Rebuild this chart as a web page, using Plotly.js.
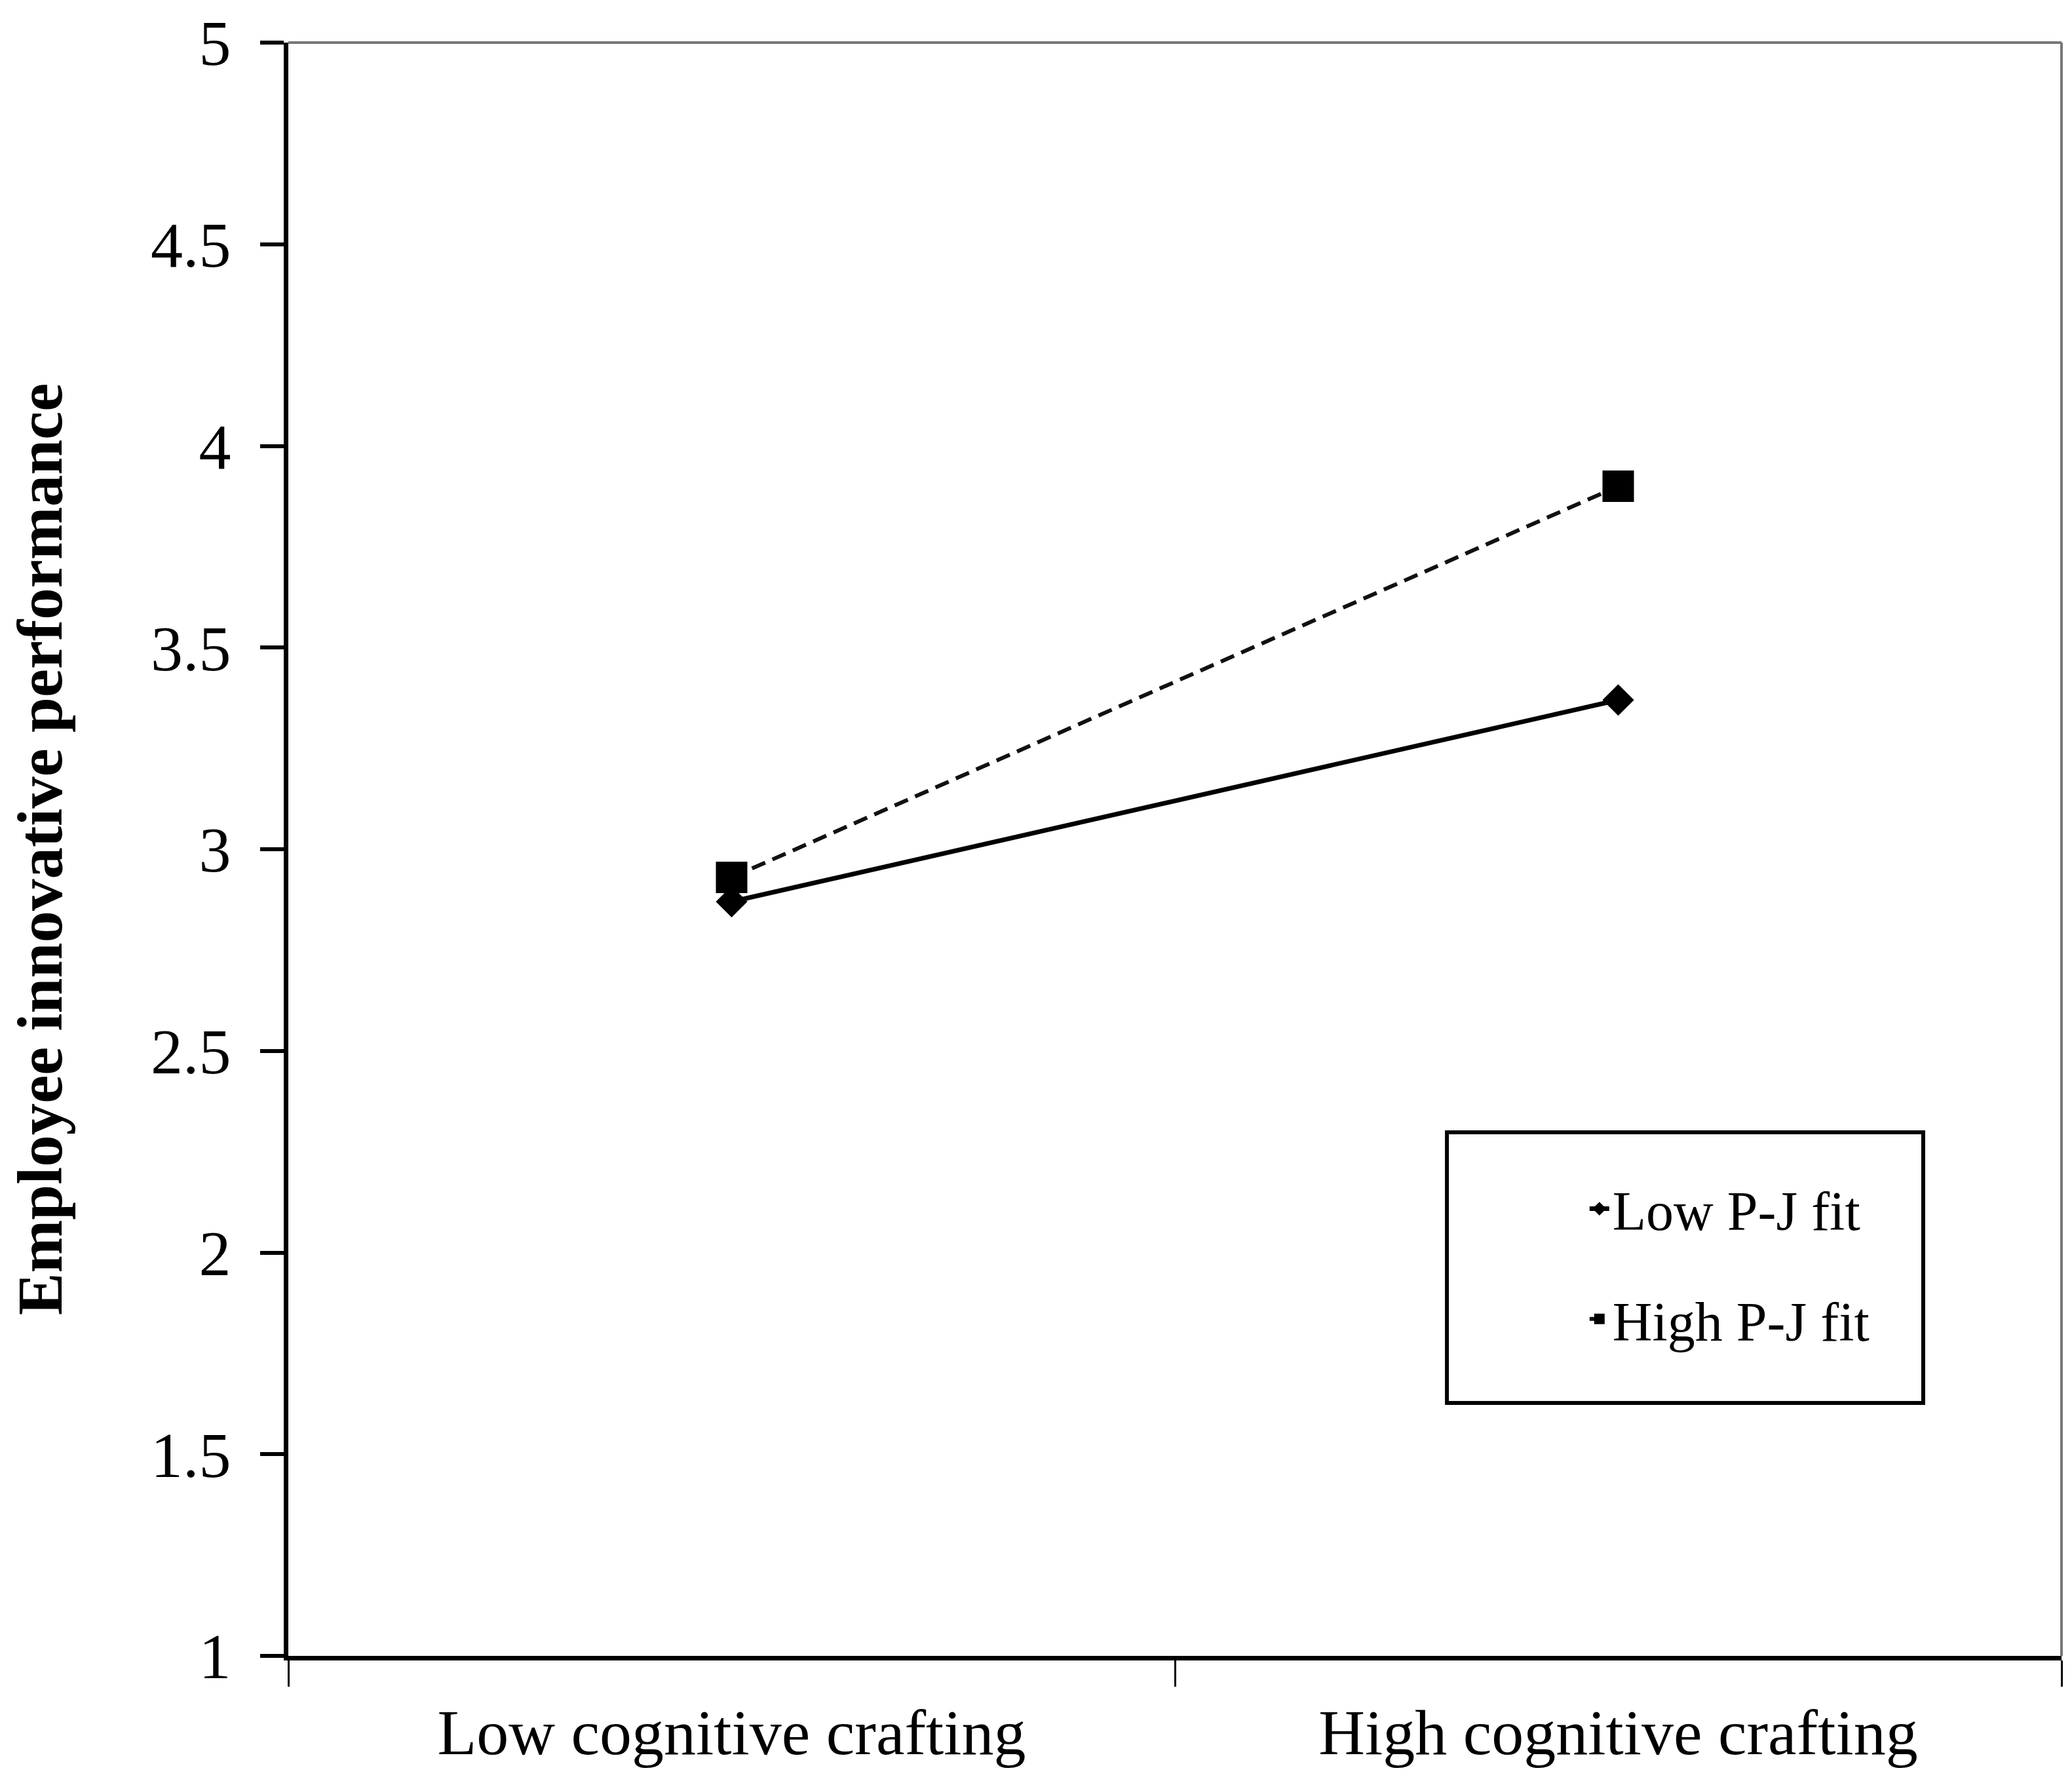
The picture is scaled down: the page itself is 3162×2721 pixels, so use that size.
<!DOCTYPE html>
<html>
<head>
<meta charset="utf-8">
<script src="https://cdn.plot.ly/plotly-3.0.1.min.js"></script>
<style>
  body { margin: 0; background: #fff; }
</style>
</head>
<body>
<div id="chart"></div>
<script>
var categories = ['Low cognitive crafting', 'High cognitive crafting'];
var lowFit = [2.87, 3.37];
var highFit = [2.93, 3.90];
var seriesNames = ['Low P-J fit', 'High P-J fit'];

var serif = 'Liberation Serif, Times New Roman, serif';

var low = {
  x: categories,
  y: lowFit,
  name: seriesNames[0],
  legendgroup: 'a',
  mode: 'lines+markers',
  type: 'scatter',
  line: {color: '#000', width: 7},
  marker: {symbol: 'diamond', size: 37, color: '#000'}
};

var high = {
  x: categories,
  y: highFit,
  name: seriesNames[1],
  legendgroup: 'b',
  mode: 'lines+markers',
  type: 'scatter',
  line: {color: '#111', width: 6, dash: '22px,12px'},
  marker: {symbol: 'square', size: 48, color: '#000'}
};

var lay = {
  width: 3162,
  height: 2721,
  margin: {l: 440, r: 16, t: 65, b: 194},
  paper_bgcolor: '#fff',
  plot_bgcolor: '#fff',
  font: {family: serif, color: '#000', size: 98},
  showlegend: true,
  legend: {
    x: 0.732, y: 0.302,
    xanchor: 'left', yanchor: 'top',
    bgcolor: 'rgba(0,0,0,0)',
    borderwidth: 0,
    traceorder: 'grouped',
    tracegroupgap: 56,
    font: {family: serif, size: 84, color: '#000'}
  },
  xaxis: {
    type: 'category',
    range: [-0.5, 1.5],
    tickson: 'boundaries',
    ticks: 'outside',
    ticklen: 40,
    tickwidth: 3,
    tickcolor: '#000',
    ticklabelstandoff: 25,
    showline: true,
    linecolor: '#000',
    linewidth: 7,
    showgrid: false,
    zeroline: false,
    fixedrange: true
  },
  yaxis: {
    range: [1, 5],
    dtick: 0.5,
    ticks: 'outside',
    ticklen: 36,
    tickwidth: 6,
    tickcolor: '#000',
    ticklabelstandoff: 25,
    showline: true,
    linecolor: '#000',
    linewidth: 7,
    showgrid: false,
    zeroline: false,
    title: {
      text: 'Employee innovative performance',
      font: {family: serif, size: 97, weight: 'bold', color: '#000'},
      standoff: 105
    }
  },
  shapes: [
    // grey top and right frame
    {type: 'line', xref: 'paper', yref: 'paper', x0: 0, x1: 1, y0: 1, y1: 1,
     line: {color: '#777', width: 4}},
    {type: 'line', xref: 'paper', yref: 'paper', x0: 1, x1: 1, y0: 0, y1: 1,
     line: {color: '#777', width: 4}},
    // legend box
    {type: 'rect', xref: 'paper', yref: 'paper', x0: 0.6534, x1: 0.922, y0: 0.1568, y1: 0.3245,
     line: {color: '#000', width: 6}}
  ]
};

Plotly.newPlot('chart', [low, high], lay, {staticPlot: true});
</script>
</body>
</html>
